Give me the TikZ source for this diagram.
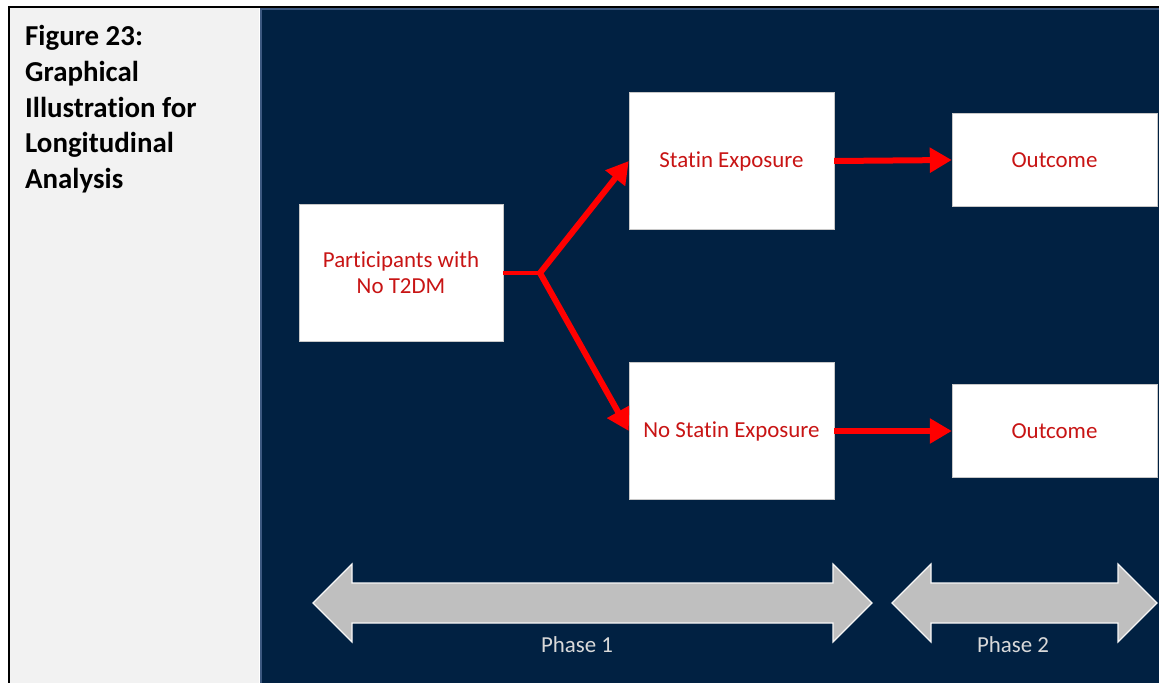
\documentclass[tikz,border=0pt]{standalone}
\usepackage{fontspec}
\setmainfont{Carlito}[Ligatures=NoCommon]
\usetikzlibrary{arrows.meta,positioning}

\definecolor{cellgray}{RGB}{242,242,242}
\definecolor{panelblue}{RGB}{1,33,66}
\definecolor{paneledge}{RGB}{60,88,128}
\definecolor{boxred}{RGB}{200,20,20}
\definecolor{boxedge}{RGB}{200,200,200}
\definecolor{phasegray}{RGB}{191,191,191}
\definecolor{phasetext}{RGB}{217,217,217}

\tikzset{
  box/.style={draw=boxedge, fill=white, text=boxred, inner sep=0pt,
    align=center, font=\fontsize{23}{26}\selectfont},
  flow/.style={red, line width=6bp, -{Triangle[length=22bp,width=24bp]}},
  phasearrow/.style={fill=phasegray, draw=white!88!phasegray, line width=1.2bp},
  phaselabel/.style={text=phasetext, font=\fontsize{23}{26}\selectfont}
}

\begin{document}
\begin{tikzpicture}[x=1bp,y=-1bp]
\useasboundingbox (0,0) rectangle (1159,683);

% table cell with the caption
\fill[cellgray] (9,7) rectangle (259,683);
\draw[line width=2bp] (9,683) -- (9,7) -- (1159,7);
\node[anchor=north west, inner sep=0pt, align=left,
  font=\bfseries\fontsize{29}{35.7}\selectfont] (caption) at (25,25.5)
  {Figure 23:\\Graphical\\Illustration for\\Longitudinal\\Analysis};

% dark panel
\fill[panelblue, draw=paneledge, line width=1.5bp] (261,9) rectangle (1160,684);

% boxes
\node[box, minimum width=204bp, minimum height=137bp] (part) at (401,273) {Participants with\\No T2DM};
\node[box, minimum width=205bp, minimum height=137bp] (statin) at (731.5,161) {Statin Exposure};
\node[box, minimum width=205bp, minimum height=137bp] (nostatin) at (731.5,431) {No Statin Exposure};
\node[box, minimum width=205bp, minimum height=93bp] (out1) at (1054.5,160) {Outcome};
\node[box, minimum width=205bp, minimum height=93bp] (out2) at (1054.5,431) {Outcome};

% branching arrows
\coordinate (split) at (540,273);
\draw[red, line width=3.5bp] (part.east) -- (split);
\draw[flow] (split) -- (statin.west);
\draw[flow] (split) -- (nostatin.west);
\draw[flow] (statin.east) -- (out1.west);
\draw[flow] (nostatin.east) -- (out2.west);

% phase arrows
\foreach \a/\b/\lx/\n in {313/872/577/1, 892/1157/1013/2} {
  \draw[phasearrow] (\a,603) -- (\a+39,564) -- (\a+39,583) -- (\b-39,583) -- (\b-39,564)
    -- (\b,603) -- (\b-39,642) -- (\b-39,623) -- (\a+39,623) -- (\a+39,642) -- cycle;
  \node[phaselabel] (phase\n) at (\lx,645) {Phase \n};
}

\end{tikzpicture}
\end{document}
